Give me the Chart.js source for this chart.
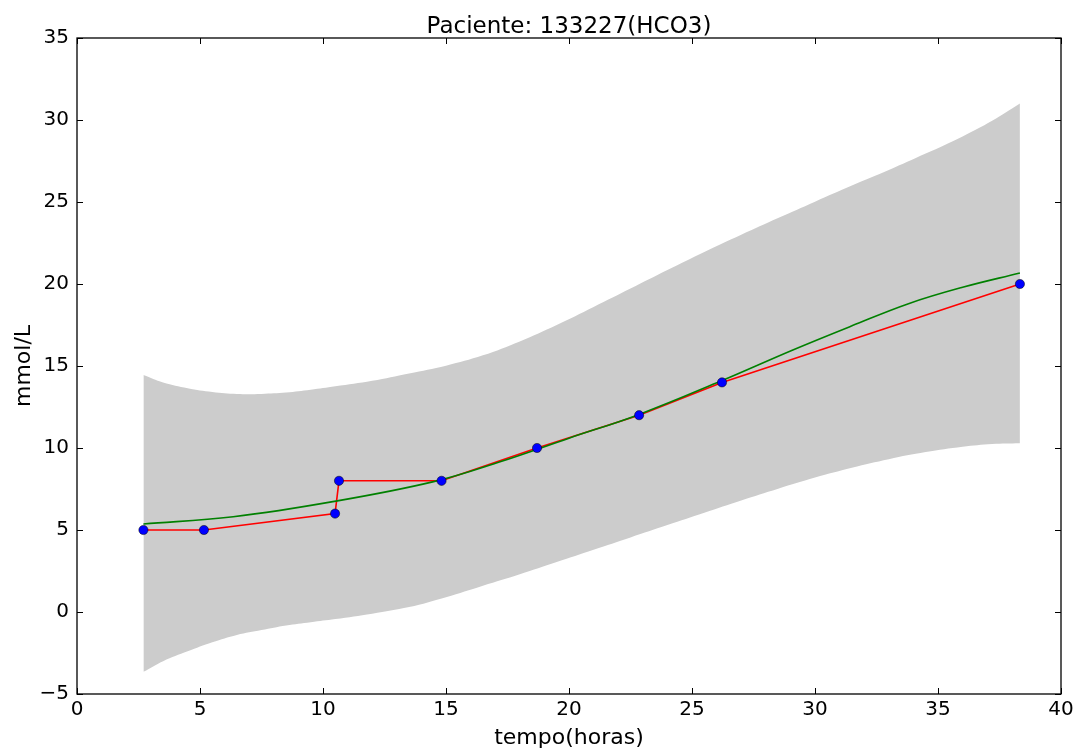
<!DOCTYPE html>
<html>
<head>
<meta charset="utf-8">
<script src="https://cdn.jsdelivr.net/npm/chart.js@4.4.1/dist/chart.umd.min.js"></script>
<style>
  html, body { margin: 0; padding: 0; background: #ffffff; }
  #wrap { width: 1078px; height: 753px; }
</style>
</head>
<body>
<div id="wrap"><canvas id="c" width="1078" height="753"></canvas></div>
<script>
// ---- data ----
const titleText = 'Paciente: 133227(HCO3)';
const xLabel = 'tempo(horas)';
const yLabel = 'mmol/L';

const xTickValues = [0, 5, 10, 15, 20, 25, 30, 35, 40];
const xTickLabels = ['0', '5', '10', '15', '20', '25', '30', '35', '40'];
const yTickValues = [-5, 0, 5, 10, 15, 20, 25, 30, 35];
const yTickLabels = ['\u22125', '0', '5', '10', '15', '20', '25', '30', '35'];

// observations (blue points, red line)
const obsX = [2.7, 5.16, 10.49, 10.65, 14.82, 18.7, 22.85, 26.22, 38.33];
const obsY = [5, 5, 6, 8, 8, 10, 12, 14, 20];

// fitted mean (green curve)
const fitX = [2.7, 6.35, 10.4, 14.5, 17.2, 20.0, 22.85, 26.2, 29.1, 31.5, 33.8, 36.0, 38.33];
const fitY = [5.37, 5.81, 6.73, 7.95, 9.16, 10.6, 12.05, 14.1, 15.98, 17.45, 18.8, 19.8, 20.67];

// confidence band (grey)
const bandX = [2.7, 3.5, 4.5, 5.5, 6.5, 7.5, 8.5, 9.5, 10.5, 12.0, 13.5, 15.0, 16.5, 18.0, 19.5, 21.0, 22.5, 24.0, 25.5, 27.0, 28.5, 30.0, 31.5, 33.0, 34.5, 36.0, 37.2, 38.33];
const bandUpper = [14.45, 14.0, 13.65, 13.42, 13.3, 13.3, 13.38, 13.55, 13.76, 14.1, 14.55, 15.02, 15.65, 16.5, 17.5, 18.6, 19.72, 20.85, 21.95, 23.0, 24.02, 25.02, 26.0, 26.95, 27.95, 29.0, 29.95, 31.0];
const bandLower = [-3.65, -3.0, -2.4, -1.85, -1.4, -1.1, -0.82, -0.62, -0.43, -0.1, 0.3, 0.9, 1.6, 2.3, 3.05, 3.8, 4.55, 5.3, 6.05, 6.8, 7.52, 8.2, 8.8, 9.32, 9.75, 10.07, 10.24, 10.29];

const pts = (xs, ys) => xs.map((x, i) => ({ x: x, y: ys[i] }));

const frameTicks = {
  id: 'frameTicks',
  afterDatasetsDraw(chart) {
    const { ctx, chartArea: a, scales } = chart;
    const L = 6;
    ctx.save();
    ctx.strokeStyle = '#000000';
    ctx.lineWidth = 1;
    ctx.beginPath();
    xTickValues.forEach(v => {
      const px = Math.round(scales.x.getPixelForValue(v)) + 0.5;
      ctx.moveTo(px, a.bottom); ctx.lineTo(px, a.bottom - L);
      ctx.moveTo(px, a.top); ctx.lineTo(px, a.top + L);
    });
    yTickValues.forEach(v => {
      const py = Math.round(scales.y.getPixelForValue(v)) + 0.5;
      ctx.moveTo(a.left, py); ctx.lineTo(a.left + L, py);
      ctx.moveTo(a.right, py); ctx.lineTo(a.right - L, py);
    });
    ctx.stroke();
    ctx.lineWidth = 1.3;
    ctx.strokeRect(a.left, a.top, a.right - a.left, a.bottom - a.top);
    // title centred over the plot area
    ctx.fillStyle = '#000000';
    ctx.font = '23px "DejaVu Sans", sans-serif';
    ctx.textAlign = 'center';
    ctx.textBaseline = 'alphabetic';
    ctx.fillText(titleText, (a.left + a.right) / 2, 33);
    ctx.restore();
  }
};

Chart.defaults.font.family = '"DejaVu Sans", sans-serif';
Chart.defaults.color = '#000000';

new Chart(document.getElementById('c'), {
  type: 'scatter',
  data: {
    datasets: [
      {
        label: 'lower',
        data: pts(bandX, bandLower),
        showLine: true,
        borderWidth: 0,
        borderColor: 'rgba(0,0,0,0)',
        pointRadius: 0,
        tension: 0.4,
        fill: false,
        order: 5
      },
      {
        label: 'upper',
        data: pts(bandX, bandUpper),
        showLine: true,
        borderWidth: 0,
        borderColor: 'rgba(0,0,0,0)',
        backgroundColor: '#cccccc',
        pointRadius: 0,
        tension: 0.4,
        fill: '-1',
        order: 4
      },
      {
        label: 'fit',
        data: pts(fitX, fitY),
        showLine: true,
        borderColor: '#008000',
        borderWidth: 1.6,
        pointRadius: 0,
        tension: 0.4,
        fill: false,
        order: 2
      },
      {
        label: 'obs line',
        data: pts(obsX, obsY),
        showLine: true,
        borderColor: '#ff0000',
        borderWidth: 1.6,
        pointRadius: 0,
        tension: 0,
        fill: false,
        order: 3
      },
      {
        label: 'obs',
        data: pts(obsX, obsY),
        showLine: false,
        pointRadius: 4.6,
        pointBackgroundColor: '#0000ff',
        pointBorderColor: '#000000',
        pointBorderWidth: 0.5,
        order: 1
      }
    ]
  },
  options: {
    responsive: false,
    animation: false,
    events: [],
    layout: { padding: { left: 0, right: 17, top: 38, bottom: 0 } },
    plugins: {
      legend: { display: false },
      tooltip: { enabled: false },
      title: { display: false }
    },
    scales: {
      x: {
        type: 'linear',
        min: 0, max: 40,
        afterBuildTicks: s => { s.ticks = xTickValues.map(v => ({ value: v })); },
        afterFit: s => { s.height = 59; },
        grid: { display: false, drawTicks: false },
        border: { display: false },
        ticks: {
          padding: 4,
          font: { size: 20 },
          color: '#000000',
          maxRotation: 0,
          callback: v => xTickLabels[xTickValues.indexOf(v)]
        },
        title: {
          display: true,
          text: xLabel,
          font: { size: 22 },
          color: '#000000',
          padding: { top: 0, bottom: 2 }
        }
      },
      y: {
        type: 'linear',
        min: -5, max: 35,
        afterBuildTicks: s => { s.ticks = yTickValues.map(v => ({ value: v })); },
        afterFit: s => { s.width = 77; },
        grid: { display: false, drawTicks: false },
        border: { display: false },
        ticks: {
          padding: 8,
          font: { size: 20 },
          color: '#000000',
          callback: v => yTickLabels[yTickValues.indexOf(v)]
        },
        title: {
          display: true,
          text: yLabel,
          font: { size: 22 },
          color: '#000000',
          padding: { top: 11, bottom: 0 }
        }
      }
    }
  },
  plugins: [frameTicks]
});
</script>
</body>
</html>
